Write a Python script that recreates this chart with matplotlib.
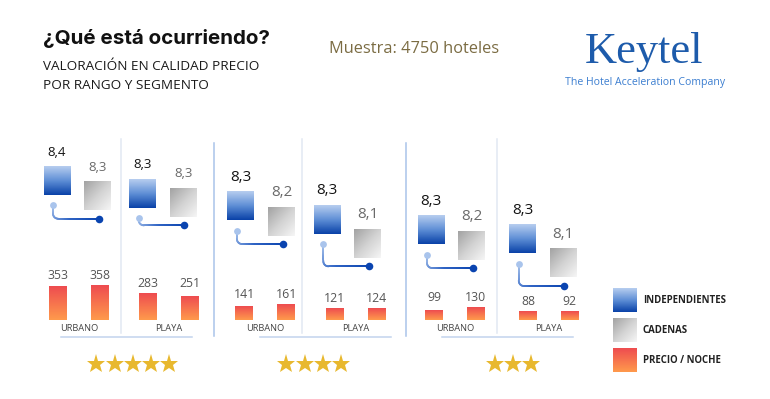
import numpy as np
import matplotlib
matplotlib.use("Agg")
import matplotlib.pyplot as plt
from matplotlib.colors import LinearSegmentedColormap
from matplotlib.collections import LineCollection

# ---------------- data ----------------
title = "¿Qué está ocurriendo?"
subtitle = ["VALORACIÓN EN CALIDAD PRECIO", "POR RANGO Y SEGMENTO"]
sample_text = "Muestra: 4750 hoteles"
stars_per_group = [5, 4, 3]
segments = ["URBANO", "PLAYA", "URBANO", "PLAYA", "URBANO", "PLAYA"]
score_indep = [8.40, 8.33, 8.30, 8.30, 8.30, 8.30]
score_chain = [8.30, 8.27, 8.20, 8.14, 8.20, 8.14]
price_indep = [353, 283, 141, 121, 99, 88]
price_chain = [358, 251, 161, 124, 130, 92]
legend_labels = ["INDEPENDIENTES", "CADENAS", "PRECIO / NOCHE"]

# ---------------- layout / style ----------------
W, H = 770, 399
fig = plt.figure(figsize=(W / 100, H / 100), dpi=100)
ax = fig.add_axes([0, 0, 1, 1])
ax.set_xlim(0, W)
ax.set_ylim(H, 0)
ax.axis("off")

NUM_FONT = ["Open Sans", "DejaVu Sans"]
TXT_FONT = ["Open Sans", "DejaVu Sans"]
PX = 0.72  # points per pixel

bar_center = [79.2, 168.7, 265.2, 355.8, 454.8, 548.8]
sq_center = [77.3, 163.0, 261.2, 347.6, 451.3, 543.1]
blue_top = [166.7, 179.3, 192.0, 205.3, 216.0, 225.0]
score_px = 150.0   # px per rating unit (gap between squares)
sq_w, sq_h = 27.0, 28.5
label_size = [9.5, 11, 11]

cm_blue = LinearSegmentedColormap.from_list("b", ["#b6cdef", "#5f8fd6", "#0a42a8"])
cm_grey = LinearSegmentedColormap.from_list("g", ["#a2a2a2", "#d2d2d2", "#f6f6f6"])
cm_red = LinearSegmentedColormap.from_list("r", ["#ee4c50", "#ff9a4c"])
cm_line = LinearSegmentedColormap.from_list("l", ["#a9c4ec", "#2d62c4", "#0a44b0"])

vgrad = np.linspace(0, 1, 64).reshape(-1, 1)
ii, jj = np.mgrid[0:64, 0:64]
dgrad = (ii + jj) / 126.0


def grad_rect(a, x0, y0, w, h, cmap, grad):
    a.imshow(grad, cmap=cmap, extent=[x0, x0 + w, y0 + h, y0], origin="upper",
             aspect="auto", interpolation="bilinear", zorder=3)


# ---------------- separators & underlines ----------------
for x in [214.3, 405.5]:
    ax.plot([x, x], [142.7, 336], color="#aac3ea", lw=1.1, zorder=1)
for x in [121, 301.5, 496.7]:
    ax.plot([x, x], [139.3, 333], color="#e2e8f2", lw=1.1, zorder=1)
for x0, x1 in [(60.7, 191.7), (260, 390.7), (441.7, 572.7)]:
    ax.plot([x0, x1], [336.7, 336.7], color="#c2d3ee", lw=1.1, zorder=1)

# ---------------- score squares ----------------
for i in range(6):
    g = i // 2
    bx0 = sq_center[i] - 20.3 - sq_w / 2
    gx0 = sq_center[i] + 20.3 - sq_w / 2
    by0 = blue_top[i]
    gy0 = blue_top[i] + (score_indep[i] - score_chain[i]) * score_px
    grad_rect(ax, bx0, by0, sq_w, sq_h, cm_blue, vgrad)
    grad_rect(ax, gx0, gy0, sq_w, sq_h, cm_grey, dgrad)
    ax.text(bx0 + sq_w / 2, by0 - 14.5, f"{score_indep[i]:.1f}".replace(".", ","),
            ha="center", va="center", fontsize=label_size[g], color="#141414",
            family=NUM_FONT)
    ax.text(gx0 + sq_w / 2, gy0 - 14.5, f"{score_chain[i]:.1f}".replace(".", ","),
            ha="center", va="center", fontsize=label_size[g], color="#6a6a6a",
            family=NUM_FONT)
    # connector
    lx, ly = bx0 + 9.5, by0 + sq_h + 10
    hy = gy0 + sq_h + 8.5
    dx = gx0 + sq_w / 2 + 1
    r = 5.0
    ts = np.linspace(np.pi, np.pi / 2, 12)
    arc_x = lx + r + r * np.cos(ts)
    arc_y = hy - r + r * np.sin(ts)
    px = np.concatenate([[lx], arc_x, [dx]])
    py = np.concatenate([[ly], arc_y, [hy]])
    seg_len = np.hypot(np.diff(px), np.diff(py))
    cum = np.concatenate([[0], np.cumsum(seg_len)])
    tt = np.linspace(0, cum[-1], 80)
    qx = np.interp(tt, cum, px)
    qy = np.interp(tt, cum, py)
    pts = np.column_stack([qx, qy]).reshape(-1, 1, 2)
    segs = np.concatenate([pts[:-1], pts[1:]], axis=1)
    lc = LineCollection(segs, cmap=cm_line, linewidths=1.3, zorder=2,
                        capstyle="round")
    lc.set_array(tt[:-1] / tt[-1])
    ax.add_collection(lc)
    ax.scatter([lx], [ly], s=24, color="#a9c4ec", zorder=4, linewidths=0)
    ax.scatter([dx], [hy], s=30, color="#0a44b0", zorder=4, linewidths=0)

# ---------------- price bars (own value axis) ----------------
k = 0.095          # px per price unit
base_px = 320.0
axb = fig.add_axes([0, 0, 1, 1])
axb.axis("off")
ylo, yhi = (base_px - H) / k, base_px / k
bar_w = 18.0
for i in range(6):
    xs = [bar_center[i] - 20.85, bar_center[i] + 20.85]
    vals = [price_indep[i], price_chain[i]]
    for x, v in zip(xs, vals):
        axb.imshow(vgrad, cmap=cm_red, extent=[x - bar_w / 2, x + bar_w / 2, 0, v],
                   origin="upper", aspect="auto", interpolation="bilinear", zorder=3)
        axb.annotate(f"{v}", xy=(x, max(vals)), xytext=(0, 10 * PX),
                     textcoords="offset points", ha="center", va="center",
                     fontsize=8.8, color="#555555", family=NUM_FONT)
axb.set_xlim(0, W)
axb.set_ylim(ylo, yhi)

for i in range(6):
    ax.text(bar_center[i], 328.5, segments[i], ha="center", va="center",
            fontsize=6.7, color="#444444", family=TXT_FONT)

# ---------------- stars ----------------
star_cx = [132.8, 313.7, 512.9]
for g, n in enumerate(stars_per_group):
    xs = star_cx[g] + (np.arange(n) - (n - 1) / 2) * 18.2
    ax.plot(xs, [364] * n, ls="none", marker="*", ms=14, color="#e8b82e",
            markeredgewidth=0, zorder=3)

# ---------------- legend ----------------
leg_y = [288.3, 318.3, 348.3]
grad_rect(ax, 612.7, leg_y[0], 24, 24, cm_blue, vgrad)
grad_rect(ax, 612.7, leg_y[1], 24, 24, cm_grey, dgrad)
grad_rect(ax, 612.7, leg_y[2], 24, 24, cm_red, vgrad)
for y, lab in zip(leg_y, legend_labels):
    ax.text(642.7, y + 12.4, lab, ha="left", va="center", fontsize=6.9,
            fontweight="bold", color="#222222", family=TXT_FONT)

# ---------------- header ----------------
ax.text(43, 39, title, ha="left", va="center", fontsize=14.8, fontweight="bold",
        color="#111111", family=["Inter", "DejaVu Sans"])
ax.text(43, 67, subtitle[0], ha="left", va="center", fontsize=9.7,
        color="#1a1a1a", family=TXT_FONT)
ax.text(43, 85.5, subtitle[1], ha="left", va="center", fontsize=9.7,
        color="#1a1a1a", family=TXT_FONT)
ax.text(414.5, 49, sample_text, ha="center", va="center", fontsize=11.8,
        color="#7b6c43", family=TXT_FONT)
ax.text(644, 62.7, "Keytel", ha="center", va="baseline", fontsize=32,
        color="#1d5bab", family=["Liberation Serif", "DejaVu Serif"])
ax.text(645, 82.7, "The Hotel Acceleration Company", ha="center", va="center",
        fontsize=7.6, color="#3c7ed0", family=TXT_FONT)

fig.savefig("out.png", dpi=100)
